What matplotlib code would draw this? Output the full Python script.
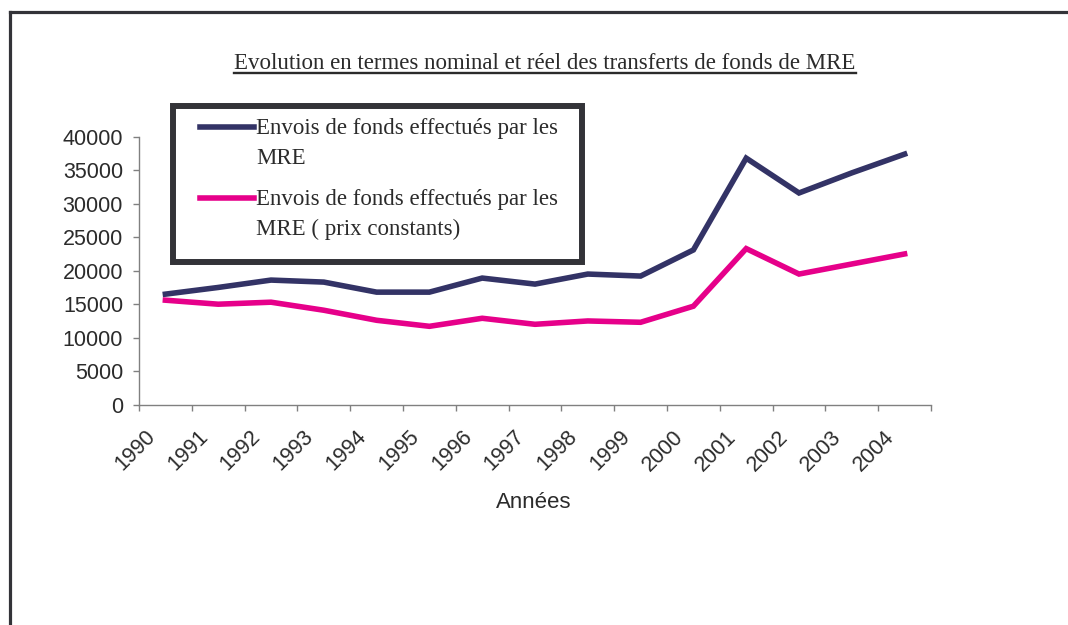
import numpy as np
import matplotlib
matplotlib.use("Agg")
import matplotlib.pyplot as plt
from matplotlib.lines import Line2D
from matplotlib.patches import Rectangle
from matplotlib.transforms import ScaledTranslation

years = ["1990", "1991", "1992", "1993", "1994", "1995", "1996", "1997",
         "1998", "1999", "2000", "2001", "2002", "2003", "2004"]
nominal = [16500, 17500, 18600, 18300, 16800, 16800, 18900, 18000,
           19500, 19200, 23100, 36800, 31600, 34600, 37400]
real = [15600, 15000, 15300, 14100, 12600, 11700, 12900, 12000,
        12500, 12300, 14700, 23300, 19500, 21000, 22500]
yticks = [0, 5000, 10000, 15000, 20000, 25000, 30000, 35000, 40000]

title = "Evolution en termes nominal et réel des transferts de fonds de MRE"
label_nom = ["Envois de fonds effectués par les", "MRE"]
label_real = ["Envois de fonds effectués par les", "MRE ( prix constants)"]
xlabel = "Années"

C_NOM = "#333366"
C_REAL = "#E6008A"
C_TXT = "#2b2b2b"
C_FRAME = "#333338"

W, H = 1068, 625
fig = plt.figure(figsize=(W / 100, H / 100), dpi=100)

def fx(px):
    return px / W

def fy(py):
    return 1 - py / H

sans = "Liberation Sans"
serif = "Liberation Serif"
FS_SANS = 15.5
FS_SERIF = 16.5

ax = fig.add_axes([fx(139), fy(404.7), fx(931) - fx(139), fy(136.7) - fy(404.7)])
x = np.arange(len(years))
ax.plot(x, nominal, color=C_NOM, lw=4.0, solid_joinstyle="miter")
ax.plot(x, real, color=C_REAL, lw=4.0, solid_joinstyle="miter")

ax.set_xlim(-0.5, len(years) - 0.5)
ax.set_ylim(0, 40000)
for s in ["top", "right"]:
    ax.spines[s].set_visible(False)
for s in ["left", "bottom"]:
    ax.spines[s].set_color("#808080")
    ax.spines[s].set_linewidth(1.0)

ax.set_yticks(yticks)
ax.set_yticklabels([str(v) for v in yticks], fontfamily=sans, fontsize=FS_SANS, color=C_TXT)
ax.tick_params(axis="y", direction="out", length=4.5, width=1, color="#808080", pad=7)

ax.set_xticks(np.arange(-0.5, len(years), 1.0))
ax.set_xticklabels([])
ax.tick_params(axis="x", which="major", direction="out", length=4.5, width=1, color="#808080")
ax.set_xticks(x, minor=True)
ax.set_xticklabels(years, minor=True, rotation=45, ha="right", va="top",
                   fontfamily=sans, fontsize=FS_SANS, color=C_TXT)
ax.tick_params(axis="x", which="minor", length=0, pad=15.5)
off = ScaledTranslation(-6 / 100, 0, fig.dpi_scale_trans)
for lab in ax.get_xticklabels(minor=True):
    lab.set_transform(lab.get_transform() + off)

fig.text(fx(534), fy(502), xlabel, ha="center", va="center",
         fontfamily=sans, fontsize=16, color=C_TXT)

# title with underline
t = fig.text(fx(545), fy(69), title, ha="center", va="baseline",
             fontfamily=serif, fontsize=FS_SERIF, color=C_TXT)
fig.canvas.draw()
bb = t.get_window_extent(fig.canvas.get_renderer())
fig.add_artist(Line2D([bb.x0 / W, bb.x1 / W], [fy(73), fy(73)],
                      transform=fig.transFigure, color=C_TXT, lw=1.7))

# outer frame (top and left)
fig.add_artist(Line2D([fx(9.5), fx(W)], [fy(11.5), fy(11.5)],
                      transform=fig.transFigure, color=C_FRAME, lw=2.3))
fig.add_artist(Line2D([fx(9.5), fx(9.5)], [fy(11.5), fy(H)],
                      transform=fig.transFigure, color=C_FRAME, lw=2.3))

# legend box
fig.add_artist(Rectangle((fx(173), fy(262)), fx(582) - fx(173), fy(106) - fy(262),
                         transform=fig.transFigure, facecolor="white",
                         edgecolor=C_FRAME, lw=4.3, zorder=5))
for ly, col, lines in [(127, C_NOM, label_nom), (198, C_REAL, label_real)]:
    fig.add_artist(Line2D([fx(200), fx(254)], [fy(ly), fy(ly)],
                          transform=fig.transFigure, color=col, lw=4.0, zorder=6))
    for i, s in enumerate(lines):
        fig.text(fx(256), fy(ly + 7 + i * 30.5), s, ha="left", va="baseline",
                 fontfamily=serif, fontsize=FS_SERIF, color=C_TXT, zorder=6)

fig.savefig("out.png", dpi=100, facecolor="white")
